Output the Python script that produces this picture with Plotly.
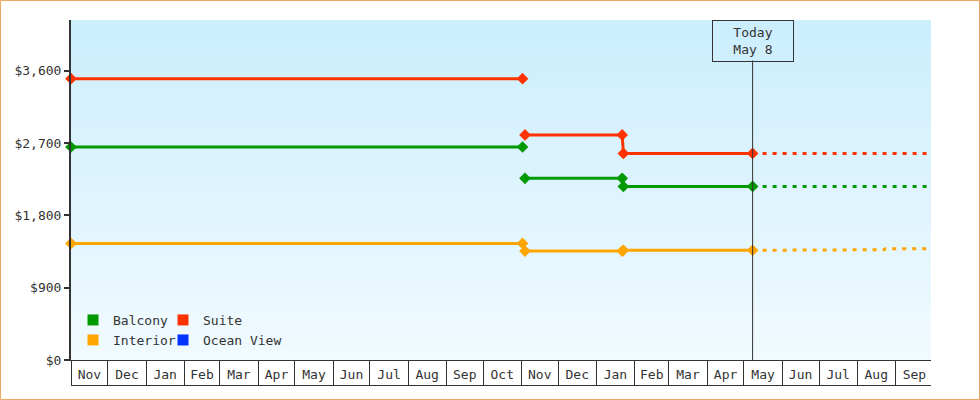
import plotly.graph_objects as go

# price history per cabin type (None = break between fare periods)
dates = ["2023-11-01", "2024-11-02", None,
         "2024-11-04", "2025-01-22", "2025-01-23", "2025-05-08"]
suite = [3500, 3500, None, 2800, 2800, 2570, 2570]
balcony = [2650, 2650, None, 2260, 2260, 2160, 2160]
interior = [1450, 1450, None, 1355, 1355, 1365, 1365]

# projected prices after today
future_dates = ["2025-05-08", "2025-06-22", "2025-06-23",
                "2025-08-23", "2025-08-24", "2025-09-30"]
suite_future = [2570, 2570, 2570, 2570, 2570, 2570]
balcony_future = [2160, 2160, 2160, 2160, 2160, 2160]
interior_future = [1365, 1365, 1372, 1372, 1385, 1385]

y_ticks = [0, 900, 1800, 2700, 3600]
today = "2025-05-08"

colors = {
    "Balcony": "#009900",
    "Suite": "#ff3300",
    "Interior": "#ffa500",
    "Ocean View": "#0033ff",
}

FONT = "DejaVu Sans Mono"
INK = "#333333"

# plot area in pixels (used to place the decorations)
L, R, T, B = 71, 49, 20, 40
W, H = 980, 400
PW, PH = W - L - R, H - T - B


def px_x(x):
    return (x - L) / PW


def px_y(y):
    return (H - B - y) / PH


fig = go.Figure()

series = [
    ("Balcony", balcony, balcony_future),
    ("Suite", suite, suite_future),
    ("Interior", interior, interior_future),
]

for name, hist, fut in series:
    fig.add_trace(go.Scatter(
        x=dates, y=hist, mode="lines+markers", name=name,
        line=dict(color=colors[name], width=3),
        marker=dict(symbol="diamond", size=9, color=colors[name]),
        cliponaxis=False, showlegend=False, legendgroup=name,
        hovertemplate="%{x|%b %d, %Y}<br>$%{y:,}<extra>" + name + "</extra>",
    ))
    fig.add_trace(go.Scatter(
        x=future_dates, y=fut, mode="lines", name=name,
        line=dict(color=colors[name], width=3, dash="4px,6px"),
        showlegend=False, legendgroup=name, hoverinfo="skip",
    ))

# square swatches for the legend, two rows of two
legend_rows = [("legend", ["Balcony", "Suite"]),
               ("legend2", ["Interior", "Ocean View"])]
for leg, names in legend_rows:
    for i, name in enumerate(names):
        fig.add_trace(go.Scatter(
            x=[None], y=[None], mode="markers", name=name,
            marker=dict(symbol="square", size=11, color=colors[name]),
            legend=leg, legendgroup=name,
            legendwidth=45 if i == 0 else 100,
        ))

# vertical gradient background of the plot area
top_rgb = (204, 238, 253)
bottom_rgb = (240, 250, 255)
bands = 34
shapes = []
for i in range(bands):
    t = i / (bands - 1)
    c = tuple(round(top_rgb[k] + (bottom_rgb[k] - top_rgb[k]) * t) for k in range(3))
    shapes.append(dict(
        type="rect", xref="paper", yref="paper", layer="below",
        x0=0, x1=1, y0=1 - (i + 1) / bands, y1=1 - i / bands,
        fillcolor="rgb(%d,%d,%d)" % c, line=dict(width=0),
    ))

# bottom edge of the month cells
shapes.append(dict(type="line", xref="paper", yref="paper",
                   x0=0, x1=1, y0=px_y(385.5), y1=px_y(385.5),
                   line=dict(color=INK, width=1)))
# today marker line
shapes.append(dict(type="line", xref="x", yref="paper",
                   x0=today, x1=today, y0=0, y1=px_y(60.5),
                   line=dict(color=INK, width=1)))
# outer frame
shapes.append(dict(type="rect", xref="paper", yref="paper",
                   x0=px_x(0.5), x1=px_x(W - 0.5),
                   y0=px_y(H - 0.5), y1=px_y(0.5),
                   line=dict(color="#e8a862", width=1)))

fig.add_annotation(
    x=today, xref="x", y=1, yref="paper", yanchor="top",
    text="Today<br>May 8", showarrow=False,
    font=dict(family=FONT, size=13, color=INK),
    bordercolor=INK, borderwidth=1, borderpad=1,
    width=78, height=38,
)

legend_style = dict(
    orientation="h", xanchor="left", yanchor="middle",
    bgcolor="rgba(0,0,0,0)",
    font=dict(family=FONT, size=13, color=INK),
    itemclick=False, itemdoubleclick=False,
)

fig.update_layout(
    width=W, height=H,
    margin=dict(l=L, r=R, t=T, b=B),
    paper_bgcolor="white",
    plot_bgcolor="rgba(0,0,0,0)",
    font=dict(family=FONT, size=13, color=INK),
    shapes=shapes,
    showlegend=True,
    legend=dict(x=px_x(73), y=px_y(320), **legend_style),
    legend2=dict(x=px_x(73), y=px_y(340), **legend_style),
    hovermode="closest",
)

fig.update_xaxes(
    type="date",
    range=["2023-11-01", "2025-09-30"],
    tick0="2023-11-01", dtick="M1",
    tickformat="%b", ticklabelmode="period",
    ticks="outside", ticklen=25, tickwidth=1, tickcolor=INK,
    ticklabelstandoff=-23,
    showline=True, linecolor=INK, linewidth=1,
    showgrid=False, zeroline=False,
    tickfont=dict(family=FONT, size=13, color=INK),
)

fig.update_yaxes(
    range=[0, 4230],
    tickvals=y_ticks, tickformat="$,",
    ticks="outside", ticklen=5, tickwidth=2, tickcolor=INK,
    showline=True, linecolor=INK, linewidth=2,
    showgrid=False, zeroline=False,
    tickfont=dict(family=FONT, size=13, color=INK),
)

# drop the default page margin so the chart sits at the window corner
fig.write_html("out.html", config={"displayModeBar": False},
               post_script="document.body.style.margin='0';")
